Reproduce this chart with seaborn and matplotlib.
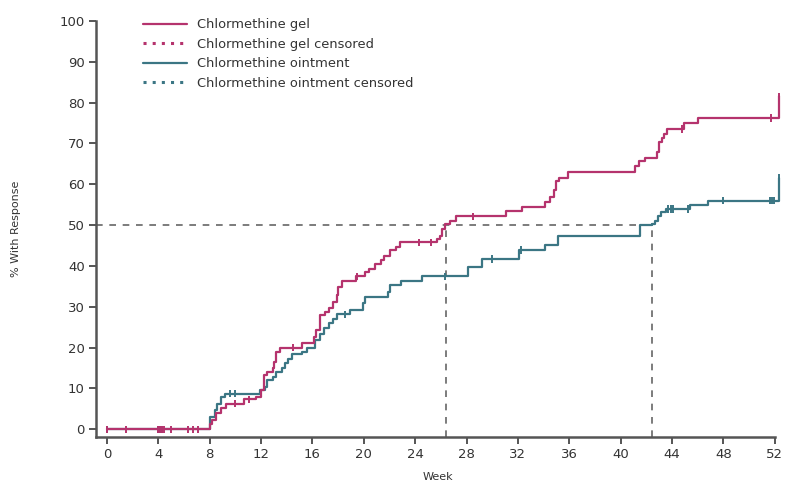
import numpy as np
import pandas as pd
import matplotlib
matplotlib.use("Agg")
import matplotlib.pyplot as plt
from matplotlib.lines import Line2D
import seaborn as sns

# ---- data ----
gel_weeks = [0, 8.0, 8.2, 8.5, 8.9, 9.3, 10.7, 11.6, 12.0, 12.2, 12.5, 12.9, 13.0, 13.2, 13.5,
             15.2, 16.1, 16.3, 16.6, 17.0, 17.3, 17.6, 17.9, 18.0, 18.3, 19.4, 20.1, 20.4, 20.9,
             21.3, 21.6, 22.0, 22.5, 22.8, 25.7, 25.9, 26.1, 26.3, 26.7, 27.2, 31.1, 32.3, 34.1,
             34.5, 34.8, 35.0, 35.2, 35.9, 41.1, 41.4, 41.9, 42.8, 43.0, 43.2, 43.4, 43.6, 44.9,
             46.0, 52.3]
gel_pct = [0, 1.4, 2.2, 3.9, 5.1, 6.3, 7.3, 7.9, 9.5, 13.2, 14.0, 14.9, 16.5, 18.9, 20.0,
           21.0, 22.6, 24.2, 27.9, 28.7, 29.6, 31.1, 32.8, 34.8, 36.3, 37.4, 38.5, 39.3, 40.5,
           41.5, 42.5, 43.8, 44.7, 45.8, 46.6, 47.4, 49.1, 50.3, 51.1, 52.1, 53.4, 54.5, 55.6,
           56.8, 58.5, 60.9, 61.6, 63.0, 64.5, 65.6, 66.5, 67.8, 70.3, 71.4, 72.4, 73.5, 74.9,
           76.2, 81.5]
oint_weeks = [0, 8.0, 8.4, 8.6, 8.9, 9.2, 11.9, 12.3, 12.5, 12.9, 13.2, 13.6, 13.9, 14.1, 14.4,
              15.2, 15.6, 16.2, 16.6, 16.9, 17.3, 17.6, 17.9, 18.9, 19.9, 20.1, 21.9, 22.0, 22.9,
              24.5, 28.1, 29.2, 32.1, 34.1, 35.1, 41.5, 42.4, 42.7, 42.9, 43.1, 43.5, 45.4, 46.8,
              52.3]
oint_pct = [0, 3.0, 4.6, 6.3, 7.9, 8.7, 9.5, 10.3, 12.0, 12.8, 14.0, 14.9, 16.1, 17.3, 18.3,
            18.9, 20.0, 21.8, 23.4, 24.9, 25.9, 27.1, 28.1, 29.1, 30.8, 32.4, 33.6, 35.2, 36.4,
            37.4, 39.7, 41.7, 43.9, 45.2, 47.2, 49.9, 50.3, 51.1, 52.3, 53.1, 53.9, 54.8, 56.0,
            61.5]
gel_censor = [0, 1.5, 4.0, 4.15, 4.3, 4.45, 5.0, 6.3, 6.7, 7.1, 10.0, 11.1, 14.5, 19.5, 24.3,
              25.2, 28.5, 44.8, 51.7, 52.3]
oint_censor = [0, 4.0, 4.1, 4.25, 9.6, 10.0, 18.5, 26.3, 30.0, 32.2, 43.7, 43.9, 44.1, 45.2,
               48.0, 51.6, 51.75, 51.9, 52.3]
median_gel = 26.4
median_oint = 42.4
x_ticks = list(range(0, 53, 4))
y_ticks = list(range(0, 101, 10))
labels = ["Chlormethine gel", "Chlormethine gel censored",
          "Chlormethine ointment", "Chlormethine ointment censored"]

GEL = "#b5336d"
OINT = "#3b7684"
AX = "#555555"

sns.set_theme(style="white")
plt.rcParams["font.family"] = ["DejaVu Sans"]

fig = plt.figure(figsize=(7.85, 4.86), dpi=100)
ax = fig.add_axes([96 / 785, 1 - 437 / 486, 684 / 785, 417 / 486])

df = pd.concat([
    pd.DataFrame({"week": gel_weeks, "pct": gel_pct, "arm": "gel"}),
    pd.DataFrame({"week": oint_weeks, "pct": oint_pct, "arm": "oint"}),
])
sns.lineplot(data=df, x="week", y="pct", hue="arm", palette={"gel": GEL, "oint": OINT},
             hue_order=["oint", "gel"], drawstyle="steps-post", estimator=None, sort=False,
             lw=1.6, legend=False, ax=ax, clip_on=False, zorder=3)


def step_val(weeks, pct, t):
    i = np.searchsorted(np.array(weeks), np.array(t), side="right") - 1
    return np.array(pct)[i]


cdf = pd.concat([
    pd.DataFrame({"week": oint_censor, "pct": step_val(oint_weeks, oint_pct, oint_censor), "arm": "oint"}),
    pd.DataFrame({"week": gel_censor, "pct": step_val(gel_weeks, gel_pct, gel_censor), "arm": "gel"}),
])
sns.scatterplot(data=cdf, x="week", y="pct", hue="arm", palette={"gel": GEL, "oint": OINT},
                marker="|", s=28, linewidth=1.4, legend=False, ax=ax, clip_on=False, zorder=4)

# median reference lines
ax.plot([-0.85, median_oint], [50, 50], ls=(0, (4, 4)), color="#666666", lw=1.2, zorder=2)
ax.plot([median_gel, median_gel], [-1.9, 50], ls=(0, (4, 4)), color="#666666", lw=1.2, zorder=2)
ax.plot([median_oint, median_oint], [-1.9, 50], ls=(0, (4, 4)), color="#666666", lw=1.2, zorder=2)

ax.set_xlim(-0.85, 52.4)
ax.set_ylim(-1.9, 100.2)
ax.set_xticks(x_ticks)
ax.set_yticks(y_ticks)
for s in ["top", "right"]:
    ax.spines[s].set_visible(False)
for s in ["left", "bottom"]:
    ax.spines[s].set_color(AX)
    ax.spines[s].set_linewidth(1.8)
ax.spines["bottom"].set_bounds(-0.85, 52)
ax.spines["left"].set_bounds(-1.9, 100)
ax.tick_params(axis="both", colors=AX, labelcolor="#333333", labelsize=9.5,
               direction="out", length=5, width=1.4, pad=3, left=True, bottom=True)
ax.set_xlabel("Week", fontsize=8, color="#333333", labelpad=8)
ax.set_ylabel("% With Response", fontsize=8, color="#333333", labelpad=28)
ax.grid(False)

handles = [Line2D([], [], color=GEL, lw=1.6),
           Line2D([], [], color=GEL, lw=2.2, ls=(0, (1, 2))),
           Line2D([], [], color=OINT, lw=1.6),
           Line2D([], [], color=OINT, lw=2.2, ls=(0, (1, 2)))]
leg = ax.legend(handles, labels, loc="upper left", bbox_to_anchor=(0.068, 1.004),
                frameon=False, fontsize=9.4, handlelength=3.4, handletextpad=0.8,
                labelspacing=0.5, borderpad=0, borderaxespad=0)
for t in leg.get_texts():
    t.set_color("#333333")

fig.savefig("out.png", dpi=100)
